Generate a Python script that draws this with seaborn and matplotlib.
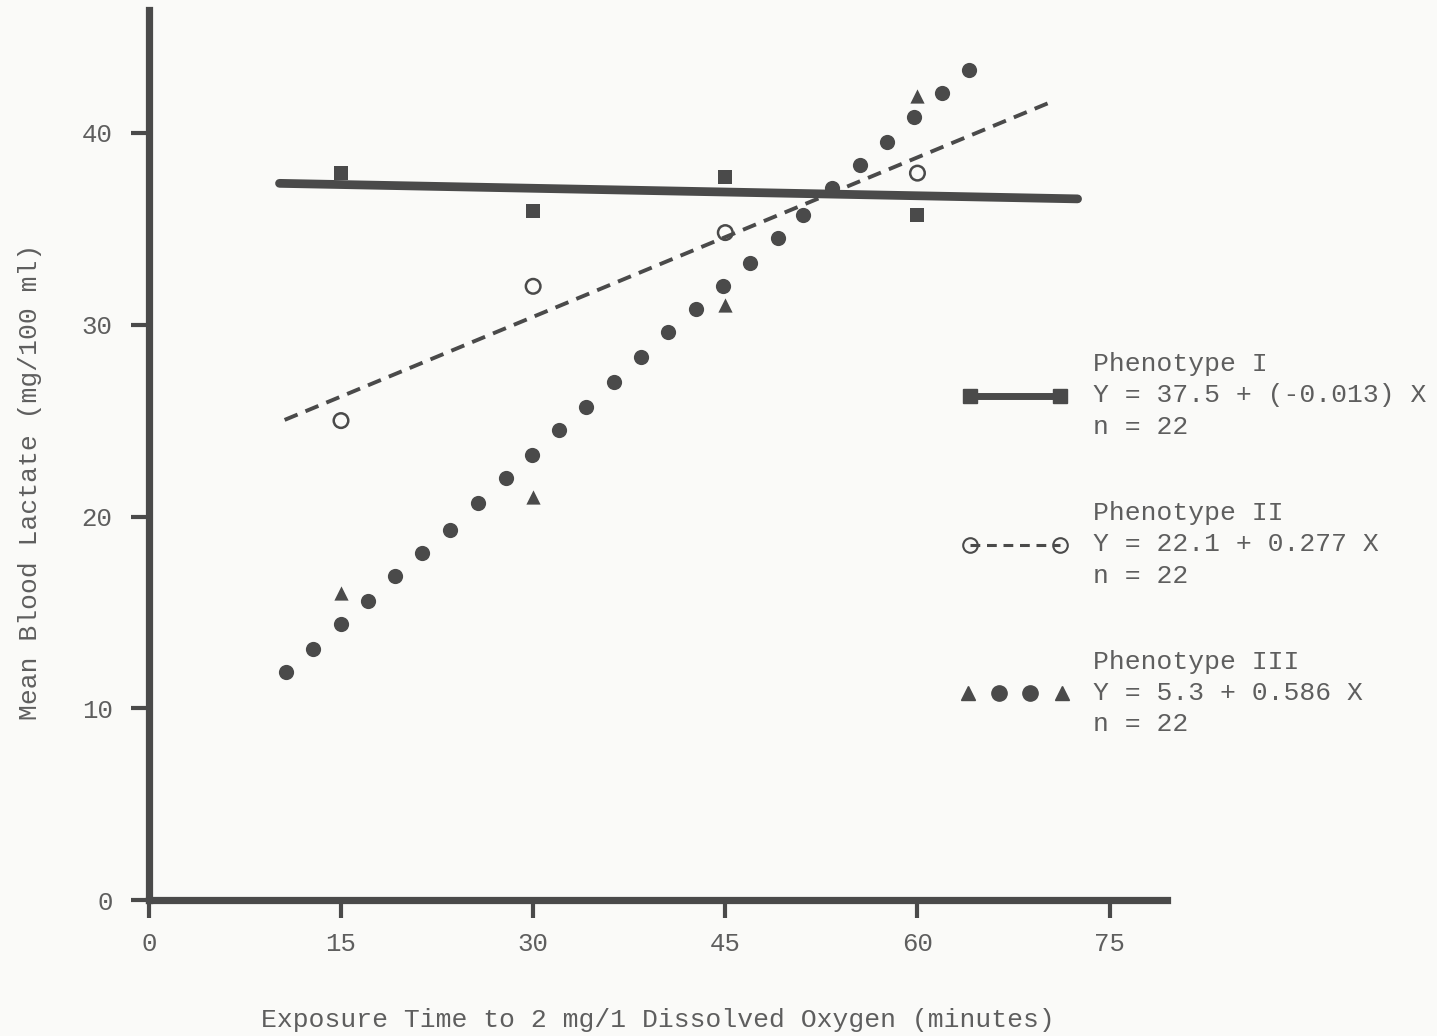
import numpy as np
import pandas as pd
import matplotlib
matplotlib.use("Agg")
import matplotlib.pyplot as plt
import seaborn as sns
from matplotlib.lines import Line2D
from matplotlib.legend_handler import HandlerTuple, HandlerLine2D

# ---------------- data ----------------
time_p1 = [15, 30, 45, 60]
lactate_p1 = [37.9, 35.9, 37.7, 35.7]

time_p2 = [15, 30, 45, 60]
lactate_p2 = [25.0, 32.0, 34.8, 37.9]

time_p3_tri = [15, 30, 45, 60]
lactate_p3_tri = [16.0, 21.0, 31.0, 41.9]

time_p3_dots = [10.7, 12.8, 15.0, 17.1, 19.2, 21.3, 23.5, 25.7, 27.9, 29.9,
                32.0, 34.1, 36.3, 38.4, 40.5, 42.7, 44.8, 46.9, 49.1, 51.1,
                53.3, 55.5, 57.6, 59.7, 61.9, 64.0]
lactate_p3_dots = [11.9, 13.1, 14.4, 15.6, 16.9, 18.1, 19.3, 20.7, 22.0, 23.2,
                   24.5, 25.7, 27.0, 28.3, 29.6, 30.8, 32.0, 33.2, 34.5, 35.7,
                   37.1, 38.3, 39.5, 40.8, 42.1, 43.3]

# regression lines as printed in the legend (Phenotype I, Phenotype II)
fit_intercepts = [37.5, 22.1]
fit_slopes = [-0.013, 0.277]
fit_x_start = [10.2, 10.6]
fit_x_end = [72.5, 70.5]

x_ticks = [0, 15, 30, 45, 60, 75]
y_ticks = [0, 10, 20, 30, 40]

legend_labels = [
    "Phenotype I\nY = 37.5 + (-0.013) X\nn = 22",
    "Phenotype II\nY = 22.1 + 0.277 X\nn = 22",
    "Phenotype III\nY = 5.3 + 0.586 X\nn = 22",
]
x_label = "Exposure Time to 2 mg/1 Dissolved Oxygen (minutes)"
y_label = "Mean Blood Lactate (mg/100 ml)"

# ---------------- style ----------------
sns.set_theme(style="white")
FONT = ["Liberation Mono", "DejaVu Sans Mono"]
plt.rcParams["font.family"] = FONT
BG = "#fafaf8"
INK = "#4a4a4a"
TXT = "#5e5e5e"

fig = plt.figure(figsize=(14.37, 10.36), dpi=100, facecolor=BG)
W, H = 1437, 1036
x0_px, y0_px = 148.85, 900.2
px_per_x, px_per_y = 12.81, 19.184
xmax, ymax = 79.5, 46.4
ax = fig.add_axes([x0_px / W, (H - y0_px) / H,
                   xmax * px_per_x / W, ymax * px_per_y / H])
ax.set_facecolor(BG)

# regression lines
fit_df = pd.DataFrame({
    "x": [fit_x_start[0], fit_x_end[0]],
    "y": [fit_intercepts[0] + fit_slopes[0] * fit_x_start[0],
          fit_intercepts[0] + fit_slopes[0] * fit_x_end[0]],
})
sns.lineplot(data=fit_df, x="x", y="y", ax=ax, color=INK, linewidth=6.3,
             solid_capstyle="round", errorbar=None, zorder=2)
fit_df2 = pd.DataFrame({
    "x": [fit_x_start[1], fit_x_end[1]],
    "y": [fit_intercepts[1] + fit_slopes[1] * fit_x_start[1],
          fit_intercepts[1] + fit_slopes[1] * fit_x_end[1]],
})
sns.lineplot(data=fit_df2, x="x", y="y", ax=ax, color=INK, linewidth=2.8,
             linestyle=(0, (3.6, 2.2)), errorbar=None, zorder=2)

# points
sns.scatterplot(x=time_p3_dots, y=lactate_p3_dots, ax=ax, marker="o", s=120,
                color=INK, linewidth=0, zorder=3)
sns.scatterplot(x=time_p1, y=lactate_p1, ax=ax, marker="s", s=90,
                color=INK, linewidth=0, zorder=3)
sns.scatterplot(x=time_p3_tri, y=lactate_p3_tri, ax=ax, marker="^", s=105,
                color=INK, linewidth=0, zorder=3)
sns.scatterplot(x=time_p2, y=lactate_p2, ax=ax, marker="o", s=110,
                facecolor="none", edgecolor=INK, linewidth=1.8, zorder=3)

# axes
ax.set_xlim(0, xmax)
ax.set_ylim(0, ymax)
ax.set_xticks(x_ticks)
ax.set_yticks(y_ticks)
ax.set_xticklabels([str(t) for t in x_ticks])
ax.set_yticklabels([str(t) for t in y_ticks])
for side in ["top", "right"]:
    ax.spines[side].set_visible(False)
for side in ["left", "bottom"]:
    ax.spines[side].set_linewidth(5.2)
    ax.spines[side].set_color(INK)
    ax.spines[side].set_capstyle("projecting")
ax.tick_params(axis="both", which="major", direction="out", length=13,
               width=3, color=INK, labelsize=18.5, labelcolor=TXT,
               bottom=True, left=True)
ax.tick_params(axis="x", pad=10)
ax.tick_params(axis="y", pad=13)
for lab in ax.get_xticklabels() + ax.get_yticklabels():
    lab.set_family(FONT)

ax.set_xlabel(x_label, fontsize=19, color=TXT, family=FONT)
ax.set_ylabel(y_label, fontsize=19, color=TXT, family=FONT)
ax.xaxis.set_label_coords(0.5, -0.1215)
ax.yaxis.set_label_coords(-0.105, 0.47)

# legend
h1 = Line2D([], [], color=INK, lw=5, marker="s", markersize=9.5,
            solid_capstyle="butt")
h2 = Line2D([], [], color=INK, lw=2.2, linestyle=(0, (3.2, 2.2)), marker="o",
            markerfacecolor="none", markeredgecolor=INK, markersize=10.5,
            markeredgewidth=1.5)
t_a = Line2D([], [], ls="none", marker="^", color=INK, markersize=10)
c_a = Line2D([], [], ls="none", marker="o", color=INK, markersize=11)
c_b = Line2D([], [], ls="none", marker="o", color=INK, markersize=11)
t_b = Line2D([], [], ls="none", marker="^", color=INK, markersize=10)
h3 = (t_a, c_a, c_b, t_b)
hmap = {tuple: HandlerTuple(ndivide=None, pad=0.73)}
for hh in h3:
    hmap[hh] = HandlerLine2D(numpoints=1)

leg = ax.legend([h1, h2, h3], legend_labels, handler_map=hmap,
                loc="upper left", bbox_to_anchor=(962 / W, 1 - 352 / H),
                bbox_transform=fig.transFigure, frameon=False, borderpad=0,
                borderaxespad=0, numpoints=2, handlelength=4.0,
                handletextpad=0.95, labelspacing=2.35,
                prop={"family": FONT, "size": 19})
for t in leg.get_texts():
    t.set_color(TXT)
    t.set_linespacing(1.39)

fig.savefig("out.png", dpi=100, facecolor=BG)
